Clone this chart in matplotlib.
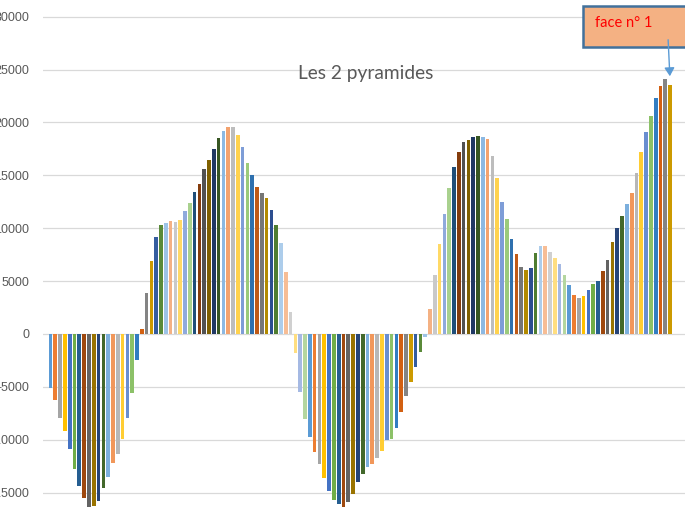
import matplotlib
matplotlib.use("Agg")
import matplotlib.pyplot as plt
from matplotlib.patches import Rectangle, FancyArrowPatch

# valeurs (130 faces)
valeurs = [
    -5100, -6200, -7900, -9200, -10900, -12800, -14400, -15500, -16400, -16300,
    -15800, -14600, -13500, -12200, -11300, -9900, -7900, -5600, -2500, 470,
    3860, 6880, 9140, 10270, 10460, 10640, 10550, 10740, 11590, 12430,
    13380, 14220, 15640, 16490, 17520, 18560, 19220, 19590, 19590, 18840,
    17640, 16130, 15000, 13870, 13300, 12830, 11700, 10280, 8590, 5850,
    2080, -1760, -5440, -7990, -9780, -11200, -12330, -13650, -14880, -15730,
    -16100, -16390, -15910, -15160, -14030, -13270, -12610, -12330, -11760, -11100,
    -10060, -9880, -8930, -7330, -5820, -4500, -3080, -1670, -250, 2360,
    5570, 8490, 11380, 13770, 15820, 17170, 18110, 18300, 18590, 18680,
    18590, 18400, 16790, 14720, 12450, 10850, 8960, 7550, 6320, 6040,
    6230, 7640, 8300, 8300, 7740, 7170, 6600, 5570, 4620, 3680,
    3400, 3580, 4150, 4720, 5000, 5940, 6980, 8680, 10000, 11130,
    12260, 13300, 15190, 17170, 19060, 20570, 22300, 23400, 24060, 23580,
]
faces = list(range(len(valeurs)))
yticks = [-15000, -10000, -5000, 0, 5000, 10000, 15000, 20000, 25000, 30000]

# palette Office "couleurs variables par point" (cycle de 54)
palette = [
    "#5B9BD5", "#ED7D31", "#A5A5A5", "#FFC000", "#4472C4", "#70AD47",
    "#255E91", "#9E480E", "#636363", "#997300", "#264478", "#43682B",
    "#7CAFDD", "#F1975A", "#B7B7B7", "#FFCD33", "#698ED0", "#8CC168",
    "#327DC2", "#D26012", "#848484", "#CC9A00", "#355D9F", "#5A8A39",
    "#9DC3E6", "#F4B183", "#C9C9C9", "#FFD966", "#8FAADC", "#A9D18E",
    "#1F4E79", "#843C0C", "#525252", "#7F6000", "#203864", "#375623",
    "#8CB8E2", "#F3A26E", "#BDBDBD", "#FFD24D", "#7E9DD7", "#9BCA7B",
    "#2E70AE", "#BF5A16", "#767676", "#B28A00", "#2C4E8F", "#4F7D31",
    "#ADCDEB", "#F7BD95", "#D0D0D0", "#FFDE80", "#A5B9E3", "#B4D69F",
]
couleurs = [palette[i % len(palette)] for i in faces]

W, H = 685, 513
fig = plt.figure(figsize=(W / 100, H / 100), dpi=100)
ax = fig.add_axes([43 / W, 0, 1 - 43 / W, 1])

ax.bar(faces, valeurs, width=0.76, color=couleurs, zorder=2)

ax.set_xlim(-1.56, 132.1)
ax.set_ylim(-16922, 31575)
ax.set_yticks(yticks)
ax.set_yticklabels([str(v) for v in yticks], fontsize=9, color="#595959",
                   family="Liberation Sans")
ax.tick_params(axis="y", length=0, pad=10)
ax.set_xticks([])
ax.yaxis.grid(True, color="#D9D9D9", linewidth=0.9, zorder=0)
for s in ax.spines.values():
    s.set_visible(False)

# titre
fig.text(366 / W, 1 - 74 / H, "Les 2 pyramides", ha="center", va="center",
         fontsize=13.8, color="#595959", family="Lato")

# encadré "face n° 1"
box = Rectangle((583 / W, 1 - 47 / H), 120 / W, 41 / H, transform=fig.transFigure,
                facecolor="#F4B183", edgecolor="#41719C", linewidth=1.8, zorder=5)
fig.add_artist(box)
fig.text(595 / W, 1 - 23 / H, "face n° 1", ha="left", va="center",
         fontsize=10.5, color="#FF0000", family="Lato", zorder=6)
fleche = FancyArrowPatch((668 / W, 1 - 37 / H), (670 / W, 1 - 79 / H),
                         transform=fig.transFigure, arrowstyle="-|>,head_length=5,head_width=3",
                         color="#5B9BD5", linewidth=1, zorder=7)
fig.add_artist(fleche)

fig.savefig("out.png", dpi=100)
